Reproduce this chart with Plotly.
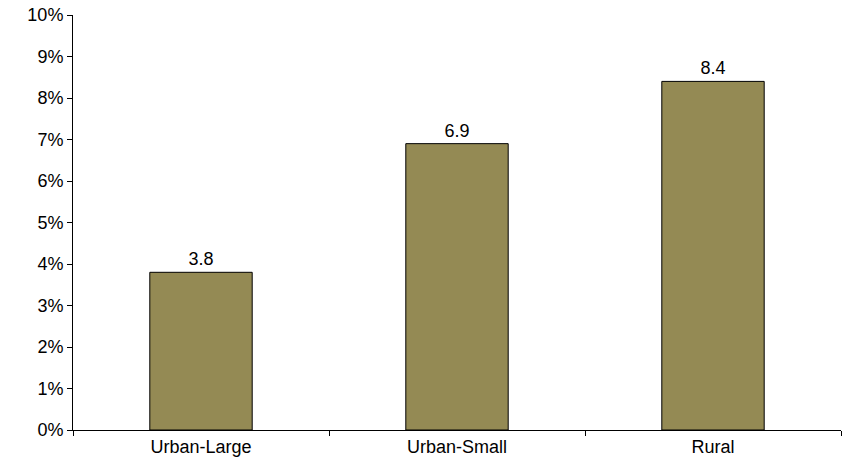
import plotly.graph_objects as go

categories = ["Urban-Large", "Urban-Small", "Rural"]
values = [3.8, 6.9, 8.4]
y_ticks = list(range(0, 11))
y_tick_labels = [f"{v}%" for v in y_ticks]

FONT = "Liberation Sans, Arial"
FS = 18

fig = go.Figure(go.Bar(
    x=categories, y=values,
    width=0.4,
    marker=dict(color="#948A54", line=dict(color="black", width=1)),
    text=[f"{v:.1f}" for v in values],
    textposition="outside",
    textfont=dict(family=FONT, size=FS, color="black"),
    cliponaxis=False,
))

fig.update_layout(
    width=846, height=464,
    margin=dict(l=73, r=5, t=15, b=34, autoexpand=False),
    paper_bgcolor="white", plot_bgcolor="white",
    font=dict(family=FONT, size=FS, color="black"),
    showlegend=False,
    uniformtext=dict(minsize=FS, mode="show"),
)
fig.update_xaxes(
    type="category", tickson="boundaries", ticks="outside", ticklen=5,
    tickcolor="black", showline=True, linecolor="black", linewidth=1,
    range=[-0.5, 2.5], showgrid=False, tickfont=dict(size=FS),
    automargin=False,
)
fig.update_yaxes(
    range=[0, 10], tickvals=y_ticks, ticktext=y_tick_labels,
    ticks="outside", ticklen=5, tickcolor="black",
    showline=True, linecolor="black", linewidth=1,
    showgrid=False, zeroline=False, tickfont=dict(size=FS),
    automargin=False, ticklabeloverflow="allow",
)

fig.write_html(
    "out.html",
    config={"displayModeBar": False},
    post_script="document.body.style.margin='0';document.body.style.overflow='hidden';",
)
